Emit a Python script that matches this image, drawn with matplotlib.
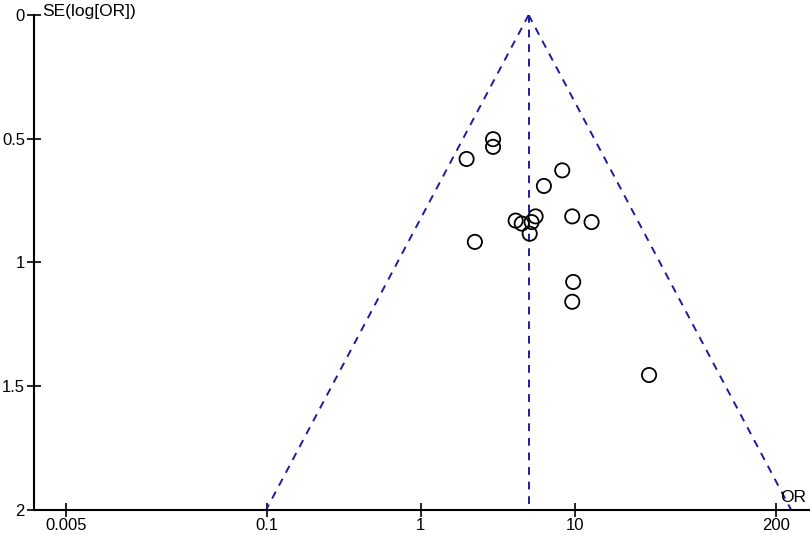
import numpy as np
import matplotlib.pyplot as plt

plt.rcParams['font.family'] = ['Liberation Sans', 'DejaVu Sans']

# study estimates
odds_ratio = [2.94, 2.94, 1.98, 8.26, 6.28, 5.55, 9.59, 12.8, 4.12, 4.51,
              5.23, 5.08, 2.24, 9.73, 9.59, 30.2]
se_log_or = [0.502, 0.533, 0.582, 0.628, 0.691, 0.814, 0.814, 0.837, 0.831,
             0.843, 0.837, 0.884, 0.917, 1.079, 1.159, 1.455]
pooled_or = 5.0

x_ticks = [0.005, 0.1, 1, 10, 200]
x_tick_labels = ['0.005', '0.1', '1', '10', '200']
y_ticks = [0, 0.5, 1, 1.5, 2]
y_tick_labels = ['0', '0.5', '1', '1.5', '2']

fig = plt.figure(figsize=(8.1, 5.35), dpi=100)
ax = fig.add_axes([0.042, 0.047, 0.958, 0.925])

# pseudo 95% confidence limits
se_line = np.array([0, 2])
lo = np.exp(np.log(pooled_or) - 1.96 * se_line)
hi = np.exp(np.log(pooled_or) + 1.96 * se_line)
line_col = '#1c1ca0'
dash = (0, (4, 3.5))
ax.plot(lo, se_line, ls=dash, color=line_col, lw=1.4)
ax.plot(hi, se_line, ls=dash, color=line_col, lw=1.4)
ax.plot([pooled_or, pooled_or], [0, 2], ls=dash, color=line_col, lw=1.4)

ax.scatter(odds_ratio, se_log_or, s=105, facecolors='none', edgecolors='black',
           linewidths=1.3, zorder=3)

ax.set_xscale('log')
ax.set_xlim(0.0031, 334)
ax.set_ylim(2, 0)
ax.set_xticks(x_ticks)
ax.set_xticklabels(x_tick_labels)
ax.set_yticks(y_ticks)
ax.set_yticklabels(y_tick_labels)
ax.minorticks_off()
ax.tick_params(direction='inout', length=10, width=1.2, labelsize=12, pad=1.5)
ax.tick_params(axis='x', pad=1)

ax.spines['top'].set_visible(False)
ax.spines['right'].set_visible(False)
ax.spines['left'].set_linewidth(1.5)
ax.spines['bottom'].set_linewidth(1.5)

ax.text(0.01, 1.008, 'SE(log[OR])', transform=ax.transAxes, fontsize=12.5,
        ha='left', va='center')
ax.text(0.962, 0.024, 'OR', transform=ax.transAxes, fontsize=12.5,
        ha='left', va='center')

fig.savefig('out.png', dpi=100)
